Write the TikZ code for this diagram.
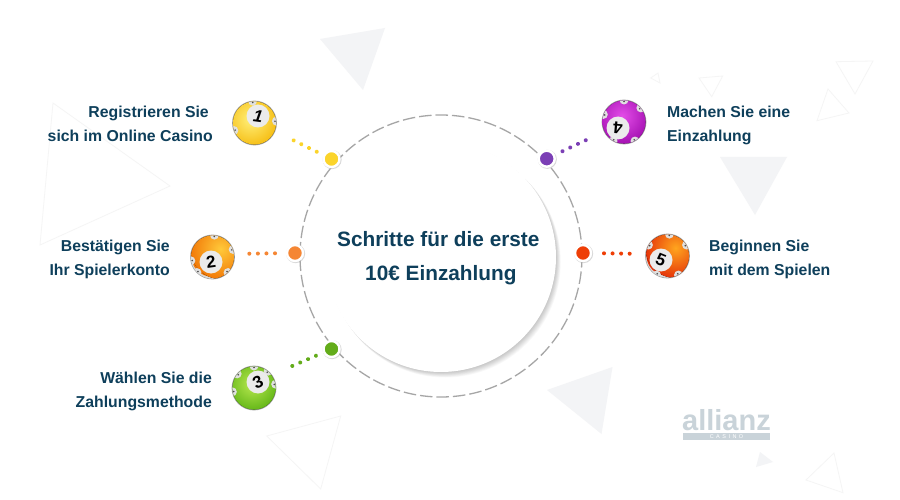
\documentclass[tikz,border=0pt]{standalone}
\usepackage{fontspec}
\setmainfont{Liberation Sans}
\newfontfamily\logof{Liberation Sans}[LetterSpace=45]
\definecolor{ink}{HTML}{0E3F5B}
\definecolor{tri}{HTML}{F3F4F6}
\definecolor{triline}{HTML}{F5F5F5}
\definecolor{logo}{HTML}{C9D3D9}
\definecolor{ringc}{HTML}{A6A6A6}
\definecolor{cyel}{HTML}{FBD42B}
\definecolor{corg}{HTML}{F58634}
\definecolor{cgrn}{HTML}{63AC1A}
\definecolor{cpur}{HTML}{7B3FB5}
\definecolor{cred}{HTML}{EE3E06}
\tikzset{
  x=1pt,y=-1pt,
  tfill/.style={fill=tri,draw=none},
  tline/.style={draw=triline,line width=.8pt,fill=none},
  lab/.style={text=ink,font=\bfseries\fontsize{15.8}{20}\selectfont,inner sep=0pt},
  labr/.style={lab,anchor=base east},
  labl/.style={lab,anchor=base west},
  ttl/.style={text=ink,font=\bfseries\fontsize{20.8}{26}\selectfont,inner sep=0pt,anchor=base west},
  marker/.style={circle,minimum size=16pt,inner sep=0pt,draw=white,line width=2.4pt,fill=#1,
    preaction={draw=black!28,line width=3pt,opacity=.55,transform canvas={xshift=.6pt,yshift=-.6pt}}},
  dotline/.style={draw=#1,line width=4pt,line cap=round,dash pattern=on 0.01pt off 8.55pt},
  ballbase/.style={circle,minimum size=44pt,inner sep=0pt,fill=black!15,draw=black!35,line width=.8pt},
  ballnum/.style={font=\bfseries\fontsize{17}{17}\selectfont,inner sep=0pt,text=black},
}
% name, x, y, disc x, disc y, main colour, light colour, highlight x, highlight y
\newcommand\lball[9]{%
  \definecolor{ballmain}{HTML}{#6}%
  \definecolor{balllite}{HTML}{#7}%
  \node[ballbase] (#1) at (#2,#3) {};
  \begin{scope}
    \clip (#2,#3) circle[radius=21.6pt];
    \fill[white!85!black] (#2,#3) circle[radius=21.6pt];
    \fill[ballmain] (#2-.7,#3-.7) circle[radius=20.4pt];
    \fill[shading=radial,inner color=balllite,outer color=ballmain] (#2+#8,#3+#9) circle[radius=30pt];
    \lballrest{#2}{#3}{#4}{#5}
  \end{scope}
}
\newcommand\lballrest[4]{%
  \foreach \a in \notches {
    \fill[white!88!black] (#1,#2) ++(\a:22pt) circle[radius=4.5pt];
    \fill[black!70] (#1,#2) ++(\a:20.6pt) circle[radius=.9pt];
  }
  \fill[white!92!black] (#3,#4) circle[radius=11.5pt];
}
\begin{document}
\begin{tikzpicture}
\useasboundingbox[fill=white] (0,0) rectangle (900,500);
% background triangles
\fill[tfill] (320,39) -- (385,28) -- (363,90) -- cycle;
\fill[tfill] (547,390) -- (612.5,367) -- (601.5,434) -- cycle;
\fill[tfill] (720,157) -- (787,157) -- (755,215) -- cycle;
\fill[tfill] (760,452) -- (773,462) -- (756,467) -- cycle;
\draw[tline] (53,103) -- (170,186) -- (40,245) -- cycle;
\draw[tline] (340.7,416) -- (266.7,436) -- (320.7,489) -- cycle;
\draw[tline] (834,453) -- (806,480) -- (843,492.7) -- cycle;
\draw[tline] (836,61.7) -- (873,61) -- (855,94) -- cycle;
\draw[tline] (828,89) -- (849,113) -- (817,120.7) -- cycle;
\draw[tline] (699,78) -- (722.7,76) -- (711.7,96.7) -- cycle;
\draw[tline] (650.7,78) -- (658,73) -- (660,83) -- cycle;
% logo
\fill[logo] (683,432.7) rectangle (770,440);
\node[inner sep=0pt,anchor=base,text=logo,font=\bfseries\fontsize{29}{29}\selectfont] (logoword) at (726.5,430) {allianz};
\node[inner sep=0pt,text=white,font=\logof\fontsize{5.5}{5.5}\selectfont] (logocasino) at (726.5,436.4) {CASINO};
% ring
\coordinate (hub) at (441,256);
\draw[ringc,line width=1.3pt,dash pattern=on 12.5pt off 4pt] (hub) circle[radius=141pt];
% centre disc with shadow
\foreach \k in {0.5,1,1.5,2,2.5,3,3.5,4,4.5,5}
  \fill[black,opacity=.025] (441+.85*\k,257+\k) circle[radius=114.5pt+.2pt*\k];
\node[circle,fill=white,minimum size=230pt,inner sep=0pt] (centre) at (441,257) {};
\node[ttl] (t1) at (337,246.7) {Schritte für die erste};
\node[ttl] (t2) at (365,280.7) {10€ Einzahlung};
% markers
\node[marker=cyel] (m1) at (331.5,159) {};
\node[marker=corg] (m2) at (295,253) {};
\node[marker=cgrn] (m3) at (331.5,349) {};
\node[marker=cpur] (m4) at (546.7,158.7) {};
\node[marker=cred] (m5) at (583,253) {};
% dotted connectors
\coordinate (d1) at (292,139.6);
\coordinate (d2) at (248.6,253.7);
\coordinate (d3) at (291,366.5);
\coordinate (d4) at (586.6,139.8);
\coordinate (d5) at (630.6,253.7);
\draw[dotline=cyel,shorten <=16.5pt] (m1.center) -- (d1);
\draw[dotline=corg,shorten <=20pt] (m2.center) -- (d2);
\draw[dotline=cgrn,shorten <=17pt] (m3.center) -- (d3);
\draw[dotline=cpur,shorten <=17.5pt] (m4.center) -- (d4);
\draw[dotline=cred,shorten <=21pt] (m5.center) -- (d5);
% balls
\def\notches{5,95,200}
\lball{b1}{254.5}{123}{258}{116}{F5B90A}{FFF07A}{-4}{-4}
\node[ballnum,font=\bfseries\itshape\fontsize{17}{17}\selectfont,rotate=-8] (n1) at (258,116) {1};
\def\notches{-45,-135,-170,85,20}
\lball{b2}{212.5}{257}{211}{262}{F27A08}{FFC93A}{8}{-8}
\node[ballnum,rotate=8] (n2) at (211,262) {2};
\def\notches{10,50,90,140,190}
\lball{b3}{254}{388}{258}{382}{58B010}{B8E850}{-2}{-4}
\node[ballnum,rotate=25] (n3) at (258,382) {3};
\def\notches{-60,-120,40,90,160}
\lball{b4}{624}{122}{618}{128}{A00CAE}{E34DE8}{-2}{-6}
\node[ballnum,rotate=175] (n4) at (618,128) {4};
\def\notches{-60,-120,30,85,150}
\lball{b5}{667.5}{256}{661}{260}{E5350A}{FFA51E}{8}{-8}
\node[ballnum,rotate=-22] (n5) at (661,260) {5};
% labels
\node[labr] (l1a) at (209,118) {Registrieren Sie};
\node[labr] (l1b) at (213,142) {sich im Online Casino};
\node[labr] (l2a) at (170,251) {Bestätigen Sie};
\node[labr] (l2b) at (170,275) {Ihr Spielerkonto};
\node[labr] (l3a) at (212,383) {Wählen Sie die};
\node[labr] (l3b) at (212,407) {Zahlungsmethode};
\node[labl] (l4a) at (667,118) {Machen Sie eine};
\node[labl] (l4b) at (667,142) {Einzahlung};
\node[labl] (l5a) at (709,251) {Beginnen Sie};
\node[labl] (l5b) at (709,275) {mit dem Spielen};
\end{tikzpicture}
\end{document}
